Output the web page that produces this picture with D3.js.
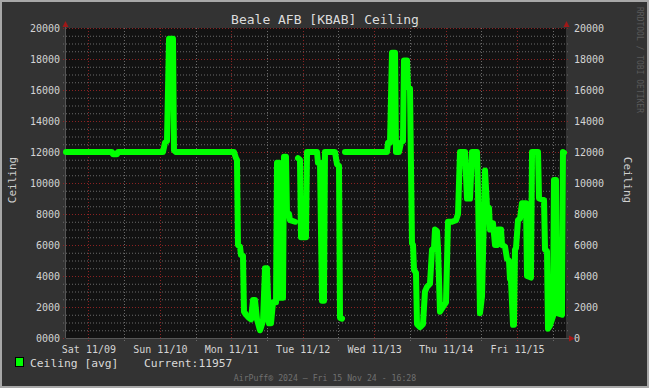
<!DOCTYPE html>
<html>
<head>
<meta charset="utf-8">
<script src="https://cdn.jsdelivr.net/npm/d3@7"></script>
<style>
  html, body { margin: 0; padding: 0; background: #333; }
  svg { display: block; font-family: "DejaVu Sans Mono", monospace; }
</style>
</head>
<body>
<svg id="chart" width="649" height="388"></svg>
<script>
const times = [
  '2024-11-08 16:28', '2024-11-09 07:55', '2024-11-09 08:15', '2024-11-09 09:36', '2024-11-09 09:56',
  '2024-11-10 01:03', '2024-11-10 01:44', '2024-11-10 02:24', '2024-11-10 03:05', '2024-11-10 04:25',
  '2024-11-10 04:45', '2024-11-10 05:26', '2024-11-11 00:55', '2024-11-11 01:35', '2024-11-11 01:55',
  '2024-11-11 02:15', '2024-11-11 02:56', '2024-11-11 03:16', '2024-11-11 03:56', '2024-11-11 04:16',
  '2024-11-11 04:57', '2024-11-11 05:57', '2024-11-11 06:38', '2024-11-11 07:18', '2024-11-11 07:58',
  '2024-11-11 08:39', '2024-11-11 09:39', '2024-11-11 10:40', '2024-11-11 11:20', '2024-11-11 12:00',
  '2024-11-11 12:41', '2024-11-11 13:21', '2024-11-11 14:01', '2024-11-11 15:02', '2024-11-11 15:22',
  '2024-11-11 16:02', '2024-11-11 16:22', '2024-11-11 17:23', '2024-11-11 17:43', '2024-11-11 18:23',
  '2024-11-11 18:43', '2024-11-11 19:24', '2024-11-11 19:44', '2024-11-11 21:25', '2024-11-11 21:55',
  '2024-11-11 22:25', '2024-11-11 23:05', '2024-11-11 23:26', '2024-11-12 01:06', '2024-11-12 01:27',
  '2024-11-12 04:48', '2024-11-12 05:08', '2024-11-12 05:49', '2024-11-12 06:29', '2024-11-12 07:09',
  '2024-11-12 07:29', '2024-11-12 10:51', '2024-11-12 11:31', '2024-11-12 12:12', '2024-11-12 12:32',
  '2024-11-12 13:12', '2024-11-12 13:42', '2024-11-12 14:13', '2024-11-13 04:19', '2024-11-13 04:40',
  '2024-11-13 05:20', '2024-11-13 06:00', '2024-11-13 07:01', '2024-11-13 07:21', '2024-11-13 08:21',
  '2024-11-13 09:02', '2024-11-13 09:42', '2024-11-13 10:02', '2024-11-13 11:03', '2024-11-13 11:23',
  '2024-11-13 12:03', '2024-11-13 12:43', '2024-11-13 13:04', '2024-11-13 13:24', '2024-11-13 14:04',
  '2024-11-13 14:24', '2024-11-13 15:25', '2024-11-13 16:25', '2024-11-13 17:05', '2024-11-13 17:46',
  '2024-11-13 18:46', '2024-11-13 19:27', '2024-11-13 20:07', '2024-11-13 20:27', '2024-11-13 21:07',
  '2024-11-13 21:28', '2024-11-13 22:08', '2024-11-13 23:08', '2024-11-14 00:09', '2024-11-14 00:49',
  '2024-11-14 02:10', '2024-11-14 03:30', '2024-11-14 04:11', '2024-11-14 04:51', '2024-11-14 06:32',
  '2024-11-14 07:12', '2024-11-14 08:13', '2024-11-14 08:53', '2024-11-14 10:34', '2024-11-14 10:54',
  '2024-11-14 11:34', '2024-11-14 12:15', '2024-11-14 13:15', '2024-11-14 13:55', '2024-11-14 14:36',
  '2024-11-14 14:56', '2024-11-14 15:56', '2024-11-14 16:37', '2024-11-14 17:17', '2024-11-14 17:37',
  '2024-11-14 18:38', '2024-11-14 18:58', '2024-11-14 19:58', '2024-11-14 20:39', '2024-11-14 21:19',
  '2024-11-14 21:39', '2024-11-14 21:59', '2024-11-14 22:40', '2024-11-14 23:00', '2024-11-14 23:20',
  '2024-11-14 23:40', '2024-11-15 00:20', '2024-11-15 01:01', '2024-11-15 01:41', '2024-11-15 03:02',
  '2024-11-15 03:22', '2024-11-15 04:42', '2024-11-15 05:03', '2024-11-15 07:04', '2024-11-15 07:24',
  '2024-11-15 09:05', '2024-11-15 09:25', '2024-11-15 10:05', '2024-11-15 10:25', '2024-11-15 11:05',
  '2024-11-15 11:46', '2024-11-15 12:06', '2024-11-15 12:26', '2024-11-15 13:06', '2024-11-15 13:27',
  '2024-11-15 15:07', '2024-11-15 15:27', '2024-11-15 15:48'
]
const ceiling = [
  12000, 12000, 11850, 11850, 12000,
  12000, 12600, 12700, 19300, 19300,
  12100, 12000, 12000, 11600, 11500,
  6000, 5900, 5350, 5300, 1700,
  1500, 1300, 1200, 2450, 2450,
  1200, 500, 1100, 4500, 4500,
  950, 950, 2300, 2300, 11300,
  11300, 2600, 2600, 11700, 11700,
  8100, 8000, 7600, 7500, null,
  11600, 11500, 6500, 6500, 12000,
  12000, 11300, 11300, 2400, 2400,
  12000, 12000, 11200, 11100, 1300,
  1250, null, 12000, 12000, 12600,
  12600, 18400, 18400, 12000, 12000,
  12600, 12700, 17900, 17900, 16200,
  16100, 6100, 6000, 4400, 4200,
  900, 700, 900, 3000, 3300,
  3500, 5700, 5800, 7000, 6900,
  5800, 1700, 2000, 2300, 7500,
  7500, 7600, 8000, 12000, 12000,
  9000, 9000, 12000, 12000, 9500,
  1600, 2700, 10800, 8500, 8400,
  7000, 7400, 6000, 6000, 7000,
  7000, 6000, 5900, 5100, 5000,
  3800, 3700, 850, 850, 5700,
  5800, 7600, 7700, 8700, 8700,
  4000, 3900, 12000, 12000, 9000,
  8900, 5700, 5600, 600, 800,
  1200, 1400, 10200, 10200, 1600,
  1500, 12000, 11957
]
const yTicks = [0, 2000, 4000, 6000, 8000, 10000, 12000, 14000, 16000, 18000, 20000]
const windowStart = '2024-11-08 16:28'
const windowEnd = '2024-11-15 16:28'
const currentValue = 11957

const parse = d3.timeParse('%Y-%m-%d %H:%M')
const points = times.map((t, i) => ({ t: parse(t), v: ceiling[i] }))

const W = 649, H = 388
const plotL = 66, plotR = 566, plotT = 28, plotB = 338

const x = d3.scaleTime().domain([parse(windowStart), parse(windowEnd)]).range([plotL, plotR])
const y = d3.scaleLinear().domain([0, 20000]).range([plotB, plotT])

const svg = d3.select('#chart')

svg.append('rect')
  .attr('x', 1).attr('y', 1).attr('width', W - 2).attr('height', H - 2)
  .attr('fill', '#333').attr('stroke', '#a8a8a8').attr('stroke-width', 2)

svg.append('rect')
  .attr('x', plotL).attr('y', plotT).attr('width', plotR - plotL).attr('height', plotB - plotT)
  .attr('fill', '#121212')

// grid
const minorY = d3.range(0, 20001, 500).filter(d => d % 2000 !== 0)
svg.append('g').selectAll('line').data(minorY).enter().append('line')
  .attr('x1', plotL - 3).attr('x2', plotR + 3)
  .attr('y1', d => y(d) + 0.5).attr('y2', d => y(d) + 0.5)
  .attr('stroke', '#6a6a6a').attr('stroke-dasharray', '1,2')

const noons = d3.timeHour.range(x.domain()[0], x.domain()[1]).filter(d => d.getHours() === 12)
svg.append('g').selectAll('line').data(noons).enter().append('line')
  .attr('x1', d => Math.round(x(d)) + 0.5).attr('x2', d => Math.round(x(d)) + 0.5)
  .attr('y1', plotT).attr('y2', plotB + 3)
  .attr('stroke', '#6a6a6a').attr('stroke-dasharray', '1,2')

svg.append('g').selectAll('line').data(yTicks).enter().append('line')
  .attr('x1', plotL - 3).attr('x2', plotR + 3)
  .attr('y1', d => y(d) + 0.5).attr('y2', d => y(d) + 0.5)
  .attr('stroke', '#8a2222').attr('stroke-dasharray', '1,2')

const days = d3.timeDay.range(x.domain()[0], x.domain()[1])
svg.append('g').selectAll('line').data(days).enter().append('line')
  .attr('x1', d => Math.round(x(d)) + 0.5).attr('x2', d => Math.round(x(d)) + 0.5)
  .attr('y1', plotT).attr('y2', plotB + 3)
  .attr('stroke', '#8a2222').attr('stroke-dasharray', '1,2')

// axis lines
svg.append('line').attr('x1', plotL - 0.5).attr('x2', plotL - 0.5).attr('y1', plotT - 2).attr('y2', plotB)
  .attr('stroke', '#555')
svg.append('line').attr('x1', plotL).attr('x2', plotR + 3).attr('y1', plotB + 0.5).attr('y2', plotB + 0.5)
  .attr('stroke', '#555')

// arrows
svg.append('path').attr('d', `M${plotL - 0.5},${plotT - 7}L${plotL - 3.5},${plotT - 1}L${plotL + 2.5},${plotT - 1}Z`).attr('fill', '#a01818')
svg.append('path').attr('d', `M${plotR + 0.5},${plotT - 7}L${plotR - 2.5},${plotT - 1}L${plotR + 3.5},${plotT - 1}Z`).attr('fill', '#a01818')
svg.append('path').attr('d', `M${plotR + 9},${plotB + 0.5}L${plotR + 3},${plotB - 2.5}L${plotR + 3},${plotB + 3.5}Z`).attr('fill', '#a01818')

// axes labels
const leftAxis = d3.axisLeft(y).tickValues(yTicks).tickSize(0).tickPadding(6)
  .tickFormat(d => d === 0 ? '0000' : String(d))
const gl = svg.append('g').attr('transform', `translate(${plotL},0)`).call(leftAxis)
const rightAxis = d3.axisRight(y).tickValues(yTicks).tickSize(0).tickPadding(8)
  .tickFormat(d => String(d))
const gr = svg.append('g').attr('transform', `translate(${plotR},0)`).call(rightAxis)
const bottomAxis = d3.axisBottom(x).tickValues(days).tickSize(0).tickPadding(8)
  .tickFormat(d3.timeFormat('%a %m/%d'))
const gb = svg.append('g').attr('transform', `translate(0,${plotB})`).call(bottomAxis)

for (const g of [gl, gr, gb]) {
  g.select('.domain').remove()
  g.selectAll('text').attr('fill', '#d4d4d4').attr('font-size', 10)
    .attr('font-family', '"DejaVu Sans Mono", monospace')
}

// series
const line = d3.line()
  .defined(d => d.v !== null)
  .x(d => x(d.t))
  .y(d => y(d.v))

svg.append('path')
  .datum(points)
  .attr('d', line)
  .attr('fill', 'none')
  .attr('stroke', '#00ff00')
  .attr('stroke-width', 6)
  .attr('stroke-linejoin', 'round')
  .attr('stroke-linecap', 'round')

// titles
svg.append('text').attr('x', 325).attr('y', 24).attr('text-anchor', 'middle')
  .attr('fill', '#dcdcdc').attr('font-size', 13).text('Beale AFB [KBAB] Ceiling')

svg.append('text').attr('transform', 'translate(16,180) rotate(-90)').attr('text-anchor', 'middle')
  .attr('fill', '#d0d0d0').attr('font-size', 11).text('Ceiling')
svg.append('text').attr('transform', 'translate(624,180) rotate(90)').attr('text-anchor', 'middle')
  .attr('fill', '#d0d0d0').attr('font-size', 11).text('Ceiling')

svg.append('text').attr('transform', 'translate(637,60) rotate(90)').attr('text-anchor', 'middle')
  .attr('fill', '#5a5a5a').attr('font-size', 8).text('RRDTOOL / TOBI OETIKER')

// legend
svg.append('rect').attr('x', 15.5).attr('y', 357.5).attr('width', 8).attr('height', 9)
  .attr('fill', '#00ff00').attr('stroke', '#000')
svg.append('text').attr('x', 30).attr('y', 367).attr('fill', '#d8d8d8').attr('font-size', 11.3)
  .text('Ceiling [avg]')
svg.append('text').attr('x', 144).attr('y', 367).attr('fill', '#d8d8d8').attr('font-size', 11.3)
  .text('Current:' + currentValue)

svg.append('text').attr('x', 325).attr('y', 381).attr('text-anchor', 'middle')
  .attr('fill', '#707070').attr('font-size', 8.2).text('AirPuff® 2024 – Fri 15 Nov 24 - 16:28')
</script>
</body>
</html>
